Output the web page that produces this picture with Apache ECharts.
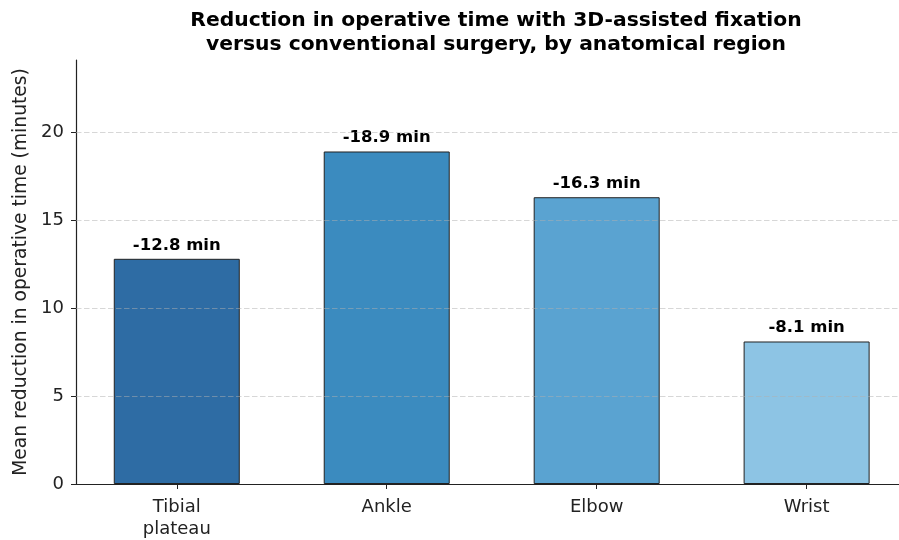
<!DOCTYPE html>
<html>
<head>
<meta charset="utf-8">
<script src="https://cdn.jsdelivr.net/npm/echarts@6/dist/echarts.min.js"></script>
<style>html,body{margin:0;padding:0;background:#fff;}#c{width:899px;height:540px;}</style>
</head>
<body>
<div id="c"></div>
<script>
const categories = ['Tibial\nplateau', 'Ankle', 'Elbow', 'Wrist'];
const reduction = [12.8, 18.9, 16.3, 8.1];
const barColors = ['#2e6ca4', '#3b8bbf', '#5aa3d1', '#8dc4e4'];
const yTicks = [0, 5, 10, 15, 20];
const gridValues = [5, 10, 15, 20];
const yMax = 24.1;

const positions = categories.map((c, i) => i);
const font = 'DejaVu Sans';
const chart = echarts.init(document.getElementById('c'), null, {renderer: 'canvas'});
chart.setOption({
  animation: false,
  backgroundColor: '#fff',
  title: {
    text: 'Reduction in operative time with 3D-assisted fixation\nversus conventional surgery, by anatomical region',
    left: 491, top: 4, textAlign: 'center',
    textStyle: {fontFamily: font, fontWeight: 'bold', fontSize: 20.3, lineHeight: 24, color: '#000'}
  },
  grid: {left: 76, right: 0, top: 60, bottom: 55, containLabel: false},
  xAxis: {
    type: 'value', min: -0.48, max: 3.44,
    axisLine: {show: true, onZero: false, lineStyle: {color: '#222', width: 1.2}},
    axisTick: {show: true, length: 5, customValues: positions, lineStyle: {color: '#222'}},
    axisLabel: {
      fontFamily: font, fontSize: 18, color: '#222', margin: 12, lineHeight: 22,
      customValues: positions,
      formatter: v => categories[Math.round(v)] || ''
    },
    splitLine: {show: false}
  },
  yAxis: {
    type: 'value', min: 0, max: yMax,
    name: 'Mean reduction in operative time (minutes)',
    nameLocation: 'middle', nameGap: 43,
    nameTextStyle: {fontFamily: font, fontSize: 18.7, color: '#222'},
    axisLine: {show: true, onZero: false, lineStyle: {color: '#222', width: 1.2}},
    axisTick: {show: true, length: 5, customValues: yTicks, lineStyle: {color: '#222'}},
    axisLabel: {fontFamily: font, fontSize: 18, color: '#222', margin: 12, customValues: yTicks},
    splitLine: {show: false}
  },
  series: [{
    type: 'bar',
    data: reduction.map((v, i) => ({value: [positions[i], v], itemStyle: {color: barColors[i]}})),
    barWidth: 126,
    itemStyle: {borderColor: '#222', borderWidth: 1},
    label: {
      show: true, position: 'top', distance: 5,
      fontFamily: font, fontWeight: 'bold', fontSize: 16.5, color: '#000',
      formatter: p => '-' + p.value[1].toFixed(1) + ' min'
    },
    markLine: {
      silent: true, symbol: 'none', z: 10,
      label: {show: false},
      lineStyle: {type: [5.5, 2.5], color: '#b0b0b0', opacity: 0.5, width: 1},
      data: gridValues.map(v => ({yAxis: v}))
    }
  }]
});
</script>
</body>
</html>
